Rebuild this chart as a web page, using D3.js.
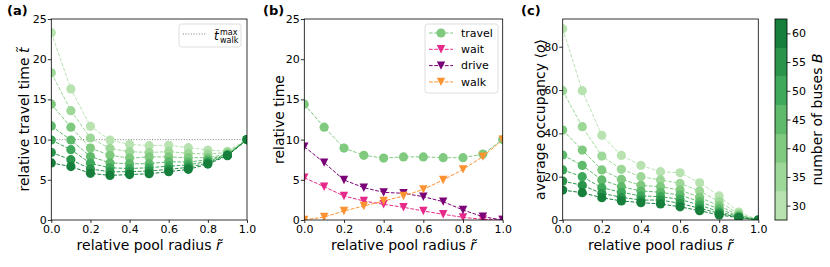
<!DOCTYPE html>
<html>
<head>
<meta charset="utf-8">
<script src="https://cdn.jsdelivr.net/npm/d3@7"></script>
<style>
    body { margin: 0; background: #fff; }
    svg { font-family: "DejaVu Sans", sans-serif; }
</style>
</head>
<body>
<div class="d3-canvas"></div>
<script>
// Data
const radii = [0, 0.1, 0.2, 0.3, 0.4, 0.5, 0.6, 0.7, 0.8, 0.9, 1.0];
const buses = [30, 35, 40, 45, 50, 55, 60];

// (a) relative travel time, one row per bus count
const travelTime = [
    [23.3, 16.3, 11.65, 9.95, 9.4, 9.25, 9.3, 9.0, 8.7, 8.55, 10],
    [18.3, 13.6, 10.2, 8.9, 8.5, 8.4, 8.5, 8.3, 8.2, 8.4, 10],
    [14.4, 11.55, 8.95, 8.05, 7.7, 7.85, 7.85, 7.75, 7.75, 8.2, 10],
    [11.7, 9.95, 7.9, 7.1, 7.0, 7.0, 7.25, 7.2, 7.5, 8.15, 10],
    [9.95, 8.75, 7.05, 6.5, 6.4, 6.5, 6.7, 6.85, 7.3, 8.1, 10],
    [8.4, 7.5, 6.35, 6.0, 6.0, 6.1, 6.3, 6.55, 7.1, 8.05, 10],
    [7.1, 6.65, 5.8, 5.55, 5.65, 5.75, 6.0, 6.3, 6.95, 8.0, 10]
];
const maxWalk = 10;

// (b) decomposition for B = 40
const travelB40 = [14.4, 11.55, 8.95, 8.05, 7.7, 7.85, 7.85, 7.75, 7.75, 8.2, 10];
const waitTime = [5.26, 4.14, 2.99, 2.36, 1.95, 1.58, 1.12, 0.71, 0.33, 0.08, 0];
const driveTime = [9.12, 7.13, 4.98, 4.02, 3.44, 3.32, 2.9, 2.28, 1.24, 0.41, 0];
const walkTime = [0.02, 0.37, 1.12, 1.74, 2.36, 2.99, 3.81, 4.98, 6.3, 7.88, 10];

// (c) average occupancy, one row per bus count
const occupancy = [
    [88.3, 59.7, 39.1, 29.8, 25.2, 22.3, 21.8, 17.2, 11.1, 3.7, 0],
    [59.7, 43.1, 29.5, 23.4, 20.0, 18.5, 16.9, 13.4, 8.5, 2.8, 0],
    [41.5, 32.3, 23.1, 18.8, 16.0, 15.4, 13.8, 10.5, 6.5, 2.3, 0],
    [30.0, 25.2, 18.5, 15.4, 13.4, 12.8, 11.5, 8.5, 5.1, 1.8, 0],
    [23.1, 20.0, 14.9, 12.8, 11.1, 10.8, 9.5, 6.9, 3.8, 1.5, 0],
    [18.0, 16.0, 12.3, 10.5, 9.2, 9.2, 7.7, 5.4, 3.1, 1.2, 0],
    [13.8, 12.6, 10.3, 8.8, 8.0, 7.4, 6.1, 4.3, 2.3, 1.1, 0]
];

const xTicks = [0, 0.2, 0.4, 0.6, 0.8, 1.0];
const timeTicks = [0, 5, 10, 15, 20, 25];
const occTicks = [0, 20, 40, 60, 80];
const busTicks = [30, 35, 40, 45, 50, 55, 60];

// Layout
const WIDTH = 830, HEIGHT = 267;
const TOP = 19, BOTTOM = 220;
const DASH = '3.7,1.6';

// matplotlib "Greens", linearly interpolated
const greenStops = ['#f7fcf5', '#e5f5e0', '#c7e9c0', '#a1d99b', '#74c476', '#41ab5d', '#238b45', '#006d2c', '#00441b'];
const greens = d3.scaleLinear().domain(d3.range(9).map(i => i / 8)).range(greenStops);
const busPos = d3.scaleLinear().domain([30, 60]).range([0.3, 0.8]);
const busColor = b => greens(busPos(b));

const svg = d3.select('.d3-canvas')
    .append('svg')
        .attr('width', WIDTH)
        .attr('height', HEIGHT);

const lineGen = (x, y) => d3.line()
    .x((d, i) => x(radii[i]))
    .y(d => y(d));

const triangle = s => `M${-s},${-s}L${s},${-s}L0,${s}Z`;

function styleAxis(g) {
    g.select('.domain').remove();
    g.attr('font-size', 11).attr('font-family', null);
    g.selectAll('line').attr('stroke', '#000').attr('stroke-width', 0.8);
    g.selectAll('text').attr('fill', '#000');
}

function panel(id, left, right, yDomain, yTicks) {
    const x = d3.scaleLinear().domain([0, 1]).range([left, right]);
    const y = d3.scaleLinear().domain(yDomain).range([BOTTOM, TOP]);

    svg.append('clipPath')
        .attr('id', 'clip-' + id)
        .append('rect')
            .attr('x', left).attr('y', TOP)
            .attr('width', right - left).attr('height', BOTTOM - TOP);

    svg.append('g')
        .attr('transform', `translate(0,${BOTTOM})`)
        .call(d3.axisBottom(x).tickValues(xTicks).tickFormat(d3.format('.1f')).tickSize(3).tickPadding(2.2))
        .call(styleAxis);
    svg.append('g')
        .attr('transform', `translate(${left},0)`)
        .call(d3.axisLeft(y).tickValues(yTicks).tickSize(3.5).tickPadding(1))
        .call(styleAxis);

    svg.append('text')
        .attr('x', (left + right) / 2)
        .attr('y', 250)
        .attr('text-anchor', 'middle')
        .attr('font-size', 14)
        .html('relative pool radius <tspan font-style="italic">r\u0303</tspan>');

    const plot = svg.append('g').attr('clip-path', `url(#clip-${id})`);
    return { x, y, plot, left, right };
}

function frame(p) {
    svg.append('rect')
        .attr('x', p.left).attr('y', TOP)
        .attr('width', p.right - p.left).attr('height', BOTTOM - TOP)
        .attr('fill', 'none')
        .attr('stroke', '#000')
        .attr('stroke-width', 0.8);
}

function yLabel(cx, html) {
    svg.append('text')
        .attr('transform', `translate(${cx},${(TOP + BOTTOM) / 2}) rotate(-90)`)
        .attr('text-anchor', 'middle')
        .attr('dy', '0.35em')
        .attr('font-size', 14)
        .html(html);
}

function panelLabel(x, txt) {
    svg.append('text')
        .attr('x', x).attr('y', 15)
        .attr('font-size', 13)
        .attr('font-weight', 'bold')
        .text(txt);
}

function greenSeries(p, rows) {
    rows.forEach((row, k) => {
        const c = busColor(buses[k]);
        p.plot.append('path')
            .attr('d', lineGen(p.x, p.y)(row))
            .attr('fill', 'none')
            .attr('stroke', c)
            .attr('stroke-width', 1)
            .attr('stroke-dasharray', DASH);
        p.plot.selectAll(null)
            .data(row)
            .enter().append('circle')
                .attr('cx', (d, i) => p.x(radii[i]))
                .attr('cy', d => p.y(d))
                .attr('r', 4.6)
                .attr('fill', c);
    });
}

// ---------- (a) ----------
const pa = panel('a', 51.3, 247, [0, 25], timeTicks);
pa.plot.append('line')
    .attr('x1', pa.x(0)).attr('x2', pa.x(1))
    .attr('y1', pa.y(maxWalk)).attr('y2', pa.y(maxWalk))
    .attr('stroke', '#808080')
    .attr('stroke-width', 1)
    .attr('stroke-dasharray', '1,1.65');
greenSeries(pa, travelTime);
frame(pa);
yLabel(24, 'relative travel time <tspan font-style="italic">t\u0303</tspan>');
panelLabel(7, '(a)');

// legend (a)
const la = svg.append('g');
la.append('rect')
    .attr('x', 179).attr('y', 24).attr('width', 62).attr('height', 23)
    .attr('rx', 2.5)
    .attr('fill', '#fff').attr('fill-opacity', 0.8)
    .attr('stroke', '#d6d6d6').attr('stroke-width', 0.8);
la.append('line')
    .attr('x1', 183).attr('x2', 207).attr('y1', 34).attr('y2', 34)
    .attr('stroke', '#808080').attr('stroke-width', 1).attr('stroke-dasharray', '1,1.65');
la.append('text')
    .attr('x', 214).attr('y', 40)
    .attr('font-size', 12).attr('font-style', 'italic')
    .text('t\u0303');
la.append('text')
    .attr('x', 220).attr('y', 35).attr('font-size', 8).text('max');
la.append('text')
    .attr('x', 220).attr('y', 43).attr('font-size', 8).text('walk');

// ---------- (b) ----------
const pb = panel('b', 304.3, 502.7, [0, 25], timeTicks);
const bSeries = [
    { name: 'travel', values: travelB40, color: busColor(40), marker: 'circle' },
    { name: 'wait', values: waitTime, color: '#e7298a', marker: 'tri' },
    { name: 'drive', values: driveTime, color: '#7a0177', marker: 'tri' },
    { name: 'walk', values: walkTime, color: '#fd9230', marker: 'tri' }
];

function marker(g, s, cx, cy) {
    if (s.marker === 'circle') {
        g.append('circle').attr('cx', cx).attr('cy', cy).attr('r', 4.6).attr('fill', s.color);
    } else {
        g.append('path')
            .attr('d', triangle(4.2))
            .attr('transform', `translate(${cx},${cy})`)
            .attr('fill', s.color);
    }
}

bSeries.forEach(s => {
    pb.plot.append('path')
        .attr('d', lineGen(pb.x, pb.y)(s.values))
        .attr('fill', 'none')
        .attr('stroke', s.color)
        .attr('stroke-width', 1)
        .attr('stroke-dasharray', DASH);
    s.values.forEach((v, i) => marker(pb.plot, s, pb.x(radii[i]), pb.y(v)));
});
frame(pb);
yLabel(279, 'relative time');
panelLabel(263, '(b)');

// legend (b)
const lb = svg.append('g');
lb.append('rect')
    .attr('x', 425).attr('y', 24).attr('width', 73).attr('height', 69)
    .attr('rx', 2.5)
    .attr('fill', '#fff').attr('fill-opacity', 0.8)
    .attr('stroke', '#d6d6d6').attr('stroke-width', 0.8);
bSeries.forEach((s, i) => {
    const yy = 33 + i * 16.3;
    lb.append('line')
        .attr('x1', 429).attr('x2', 453).attr('y1', yy).attr('y2', yy)
        .attr('stroke', s.color).attr('stroke-width', 1).attr('stroke-dasharray', DASH);
    marker(lb, s, 441, yy);
    lb.append('text')
        .attr('x', 461).attr('y', yy).attr('dy', '0.35em')
        .attr('font-size', 11)
        .text(s.name);
});

// ---------- (c) ----------
const pc = panel('c', 562.7, 758.3, [0, 92.8], occTicks);
greenSeries(pc, occupancy);
frame(pc);
yLabel(540, 'average occupancy \u27E8<tspan font-style="italic">o</tspan>\u27E9');
panelLabel(521, '(c)');

// ---------- colorbar ----------
const CB_LEFT = 775, CB_RIGHT = 787;
const cbScale = d3.scaleLinear().domain([27.5, 62.5]).range([BOTTOM, TOP]);
svg.append('g')
    .selectAll('rect')
    .data(buses)
    .enter().append('rect')
        .attr('x', CB_LEFT)
        .attr('y', d => cbScale(d + 2.5))
        .attr('width', CB_RIGHT - CB_LEFT)
        .attr('height', d => cbScale(d - 2.5) - cbScale(d + 2.5) + 0.3)
        .attr('fill', d => busColor(d));
svg.append('rect')
    .attr('x', CB_LEFT).attr('y', TOP)
    .attr('width', CB_RIGHT - CB_LEFT).attr('height', BOTTOM - TOP)
    .attr('fill', 'none').attr('stroke', '#000').attr('stroke-width', 0.8);
svg.append('g')
    .attr('transform', `translate(${CB_RIGHT},0)`)
    .call(d3.axisRight(cbScale).tickValues(busTicks).tickSize(3.5).tickPadding(1.5))
    .call(styleAxis);
yLabel(817, 'number of buses <tspan font-style="italic">B</tspan>');
</script>
</body>
</html>
